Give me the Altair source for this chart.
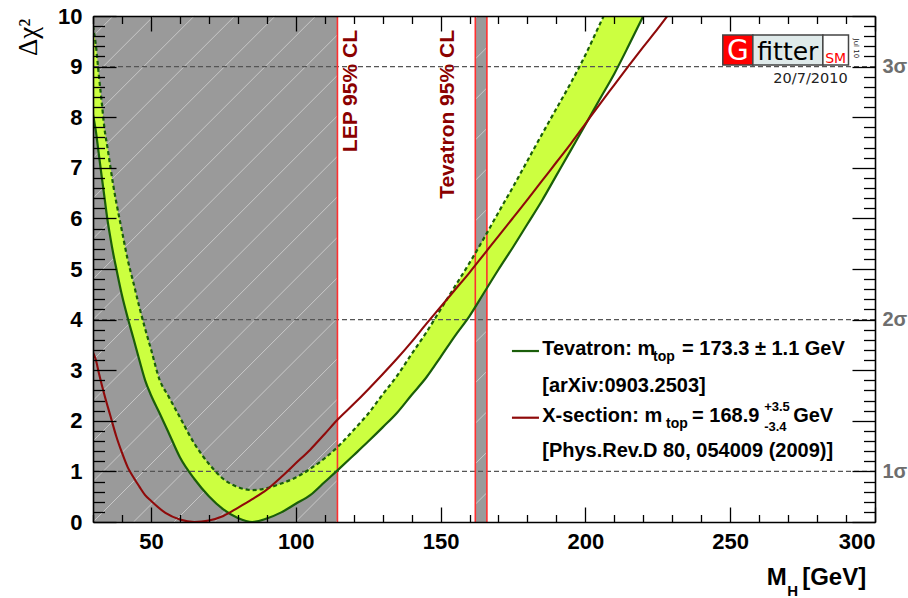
import altair as alt
import pandas as pd

# ---------------- values ----------------
mh = [30, 31, 32, 33, 34, 35, 36, 37, 38, 40, 42, 44, 46, 48, 50, 53, 56, 60,
      65, 70, 75, 80, 85, 90, 95, 100, 105, 110, 114.4, 120, 125, 130, 135, 140,
      145, 150, 155, 160, 165, 170, 175, 180, 185, 190, 195, 200, 205, 210, 215,
      220, 225]
tev_lower = [8.05, 7.72, 7.27, 6.83, 6.40, 5.97, 5.62, 5.30, 5.02, 4.48, 4.03, 3.62,
             3.20, 2.80, 2.51, 2.15, 1.78, 1.28, 0.85, 0.51, 0.25, 0.08, 0.00, 0.07,
             0.19, 0.36, 0.53, 0.79, 1.02, 1.32, 1.59, 1.87, 2.16, 2.51, 2.85, 3.26,
             3.68, 4.07, 4.53, 4.99, 5.43, 5.89, 6.35, 6.85, 7.35, 7.85, 8.36, 8.86,
             9.42, 10.0, 10.6]
tev_upper = [9.80, 9.42, 8.84, 8.30, 7.76, 7.40, 7.02, 6.65, 6.33, 5.75, 5.18, 4.72,
             4.25, 3.82, 3.42, 2.81, 2.49, 2.07, 1.55, 1.15, 0.85, 0.69, 0.63, 0.67,
             0.76, 0.88, 1.05, 1.26, 1.48, 1.82, 2.14, 2.52, 2.89, 3.32, 3.74, 4.20,
             4.66, 5.12, 5.61, 6.12, 6.62, 7.14, 7.66, 8.17, 8.68, 9.23, 9.84, 10.45,
             11.05, 11.65, 12.2]
xs_mh = [30, 31, 32, 34, 36, 38, 40, 42, 44, 46, 48, 50, 55, 60, 65, 70, 75, 80, 85,
         90, 95, 100, 105, 110, 114.4, 120, 125, 130, 135, 140, 145, 150, 155, 160,
         165, 170, 175, 180, 185, 190, 195, 200, 205, 210, 215, 220, 225, 230]
xs_chi2 = [3.35, 3.20, 2.95, 2.50, 2.10, 1.70, 1.37, 1.08, 0.88, 0.70, 0.53, 0.42,
           0.18, 0.05, 0.00, 0.03, 0.12, 0.28, 0.45, 0.64, 0.89, 1.16, 1.43, 1.74,
           2.02, 2.33, 2.62, 2.92, 3.23, 3.56, 3.91, 4.25, 4.59, 4.93, 5.29, 5.65,
           6.01, 6.37, 6.74, 7.11, 7.48, 7.87, 8.26, 8.64, 9.02, 9.39, 9.75, 10.13]

excl_from = [30, 162]
excl_to = [114.4, 166]
cl_edges = [114.4, 162, 166]
sigma_chi2 = [1, 4, 9]
sigma_names = ["1σ", "2σ", "3σ"]
x_label_values = [50, 100, 150, 200, 250, 300]
y_label_values = [0, 1, 2, 3, 4, 5, 6, 7, 8, 9, 10]
y_tick_values = [round(0.2 * i, 1) for i in range(51)]
x_tick_values = list(range(30, 301, 10))

# annotation anchors (data coordinates)
legend_text = ["Tevatron: m", "top", "= 173.3 ± 1.1 GeV", "[arXiv:0903.2503]",
               "X-section: m", "top", "= 168.9", "+3.5", "-3.4", "GeV",
               "[Phys.Rev.D 80, 054009 (2009)]"]
legend_x = [185.10, 223.37, 233.39, 185.10, 185.10, 227.86, 236.84, 261.72, 261.72,
            271.74, 185.10]
legend_y = [3.300, 3.182, 3.300, 2.579, 1.986, 1.858, 1.986, 2.194, 1.798, 1.986, 1.294]
legend_size = [20, 14, 20, 20, 20, 14, 20, 13, 13, 20, 20]
sample_x0 = [174.65, 174.65]
sample_x1 = [183.98, 183.98]
sample_y = [3.379, 2.061]
sample_color = ["#1a5e0a", "#8f0a0a"]

title_text = ["M", "H", "[GeV]"]
title_x = [262.65, 269.67, 274.85]
title_y = [-1.245, -1.462, -1.245]
title_size = [24, 15, 24]

cl_text = ["LEP 95% CL", "Tevatron 95% CL"]
cl_text_x = [121.12, 154.64]
cl_text_y = [9.723, 9.723]

logo_x0 = [247.45, 257.82, 282.0]
logo_x1 = [257.82, 282.0, 290.85]
logo_fill = ["#ff0000", "#dfeaea", "#ffffff"]
logo_text = ["G", "fitter", "SM"]
logo_text_x = [252.63, 269.91, 286.43]
logo_text_y = [9.13, 9.13, 9.081]
logo_text_size = [28, 25, 14]
logo_text_color = ["#ffffff", "#000000", "#ff0000"]

# ---------------- chart ----------------
W, H = 782, 506
F = "Liberation Sans"
GREEN = "#1a5e0a"
RED = "#8f0a0a"
X = alt.Scale(domain=[30, 300], nice=False, zero=False)
Y = alt.Scale(domain=[0, 10], nice=False, zero=False)

band = pd.DataFrame({"mh": mh, "lo": tev_lower, "hi": tev_upper})
xs = pd.DataFrame({"mh": xs_mh, "chi2": xs_chi2})
excl = pd.DataFrame({"a": excl_from, "b": excl_to, "y0": [0] * len(excl_from),
                     "y1": [10] * len(excl_from)})

# hatch decoration (45 degree light lines inside excluded regions)
S = 0.0572   # slope in data units that gives 45 degrees on screen
STEP = 0.8
hatch = []
for a, b in zip(excl_from, excl_to):
    for k in range(int(-(S * (b - 30)) / STEP) - 2, int(10 / STEP) + 3):
        c = k * STEP
        m_lo = max(a, 30 + (0 - c) / S)
        m_hi = min(b, 30 + (10 - c) / S)
        if m_hi > m_lo:
            hatch.append({"x": m_lo, "x2": m_hi, "y": c + S * (m_lo - 30),
                          "y2": c + S * (m_hi - 30)})
hatch = pd.DataFrame(hatch)


def tick_axis(orient, offset, values, test, big, small):
    return alt.Axis(orient=orient, offset=offset, values=values, labels=False,
                    title=None, grid=False, domain=True, domainColor="black",
                    domainWidth=1.6, ticks=True, tickColor="black", tickWidth=1.3,
                    tickSize={"condition": {"test": test, "value": big}, "value": small},
                    zindex=3)


ax_y_labels = alt.Axis(orient="left", values=y_label_values, ticks=False, domain=False,
                       grid=False, labelFont=F, labelFontSize=22, labelFontWeight="bold",
                       labelColor="black", labelPadding=11, title=None, format="d")
ax_x_labels = alt.Axis(orient="bottom", values=x_label_values, ticks=False, domain=False,
                       grid=False, labelFont=F, labelFontSize=22, labelFontWeight="bold",
                       labelColor="black", labelPadding=9, title=None, format="d")
ax_y_left_ticks = tick_axis("right", -W, y_tick_values, "datum.value % 1 === 0", 23, 11.5)
ax_y_right_ticks = tick_axis("left", -W, y_tick_values, "datum.value % 1 === 0", 23, 11.5)
ax_x_bottom_ticks = tick_axis("top", -H, x_tick_values, "datum.value % 50 === 0", 15, 7.5)
ax_x_top_ticks = tick_axis("bottom", -H, x_tick_values, "datum.value % 50 === 0", 15, 7.5)
sig_expr = " : ".join(f"datum.value === {v} ? '{n}'" for v, n in zip(sigma_chi2, sigma_names)) + " : ''"
ax_sigma = alt.Axis(orient="right", values=sigma_chi2, ticks=False, domain=False, grid=False,
                    labelFont=F, labelFontSize=20, labelFontWeight="bold",
                    labelColor="#6e6e6e", labelPadding=7, title=None, labelExpr=sig_expr)

gray = alt.Chart(excl).mark_rect(color="#9a9a9a").encode(
    x=alt.X("a:Q", scale=X, axis=ax_x_labels), x2="b:Q",
    y=alt.Y("y0:Q", scale=Y, axis=ax_y_labels), y2="y1:Q")

hatch_l = alt.Chart(hatch).mark_rule(color="#c8c8c8", strokeWidth=1).encode(
    x=alt.X("x:Q", scale=X, axis=ax_x_bottom_ticks), x2="x2:Q",
    y=alt.Y("y:Q", scale=Y, axis=ax_y_left_ticks), y2="y2:Q")

area = alt.Chart(band).mark_area(color="#ccff40", clip=True, interpolate="monotone").encode(
    x=alt.X("mh:Q", scale=X, axis=ax_x_top_ticks),
    y=alt.Y("lo:Q", scale=Y, axis=ax_y_right_ticks), y2="hi:Q")

refl = alt.Chart(pd.DataFrame({"v": sigma_chi2})).mark_rule(
    color="#555555", strokeDash=[5, 3], strokeWidth=1.3).encode(
    y=alt.Y("v:Q", scale=Y, axis=None))

cl = alt.Chart(pd.DataFrame({"m": cl_edges})).mark_rule(
    color="#ff3030", strokeWidth=1.6).encode(x=alt.X("m:Q", scale=X, axis=None))

lower = alt.Chart(band).mark_line(color=GREEN, strokeWidth=2.2, clip=True,
                                  interpolate="monotone").encode(
    x=alt.X("mh:Q", scale=X, axis=None), y=alt.Y("lo:Q", scale=Y, axis=None))
upper = alt.Chart(band).mark_line(color=GREEN, strokeWidth=2.2, strokeDash=[4, 3],
                                  clip=True, interpolate="monotone").encode(
    x=alt.X("mh:Q", scale=X, axis=None), y=alt.Y("hi:Q", scale=Y, axis=None))
xsec = alt.Chart(xs).mark_line(color=RED, strokeWidth=2.1, clip=True,
                               interpolate="monotone").encode(
    x=alt.X("mh:Q", scale=X, axis=None), y=alt.Y("chi2:Q", scale=Y, axis=ax_sigma))


def text_layer(df, **kw):
    enc = dict(x=alt.X("x:Q", scale=X, axis=None), y=alt.Y("y:Q", scale=Y, axis=None),
               text="t:N")
    if "size" in df.columns:
        enc["size"] = alt.Size("size:Q", scale=None, legend=None)
    if "color" in df.columns:
        enc["color"] = alt.Color("color:N", scale=None, legend=None)
    return alt.Chart(df).mark_text(**kw).encode(**enc)


legend_df = pd.DataFrame({"x": legend_x, "y": legend_y, "t": legend_text, "size": legend_size})
leg_txt = text_layer(legend_df, font=F, fontWeight="bold", align="left",
                     baseline="alphabetic", color="black")
samples = alt.Chart(pd.DataFrame({"x": sample_x0, "x2": sample_x1, "y": sample_y,
                                  "color": sample_color})).mark_rule(strokeWidth=2.2).encode(
    x=alt.X("x:Q", scale=X, axis=None), x2="x2:Q", y=alt.Y("y:Q", scale=Y, axis=None),
    color=alt.Color("color:N", scale=None, legend=None))

title_df = pd.DataFrame({"x": title_x, "y": title_y, "t": title_text, "size": title_size})
xtitle = text_layer(title_df, font=F, fontWeight="bold", align="left",
                    baseline="alphabetic", color="black")
ytitle = text_layer(pd.DataFrame({"x": [10.51], "y": [9.209], "t": ["Δχ²"]}),
                    font="Liberation Serif", fontSize=27, angle=270, align="left",
                    baseline="alphabetic", color="black")

cl_df = pd.DataFrame({"x": cl_text_x, "y": cl_text_y, "t": cl_text})
cl_txt = text_layer(cl_df, font=F, fontWeight="bold", fontSize=21, angle=270,
                    align="right", baseline="alphabetic", color="#8b0000")

logo_box = alt.Chart(pd.DataFrame({"a": logo_x0, "b": logo_x1, "fill": logo_fill,
                                   "y0": [9.032] * 3, "y1": [9.625] * 3})).mark_rect(
    stroke="#444444", strokeWidth=1.5).encode(
    x=alt.X("a:Q", scale=X, axis=None), x2="b:Q",
    y=alt.Y("y0:Q", scale=Y, axis=None), y2="y1:Q",
    fill=alt.Fill("fill:N", scale=None, legend=None))
logo_df = pd.DataFrame({"x": logo_text_x, "y": logo_text_y, "t": logo_text,
                        "size": logo_text_size, "color": logo_text_color})
logo_txt = text_layer(logo_df, font="DejaVu Sans", align="center", baseline="alphabetic")
jul = text_layer(pd.DataFrame({"x": [293.5], "y": [9.36], "t": ["Jul 10"]}),
                 font="DejaVu Sans", fontSize=7, angle=90, align="center",
                 baseline="middle", color="#222222")
date = text_layer(pd.DataFrame({"x": [290.58], "y": [8.67], "t": ["20/7/2010"]}),
                  font="DejaVu Sans", fontSize=14.5, align="right",
                  baseline="alphabetic", color="#222222")

chart = alt.layer(
    gray, hatch_l, area, refl, cl, lower, upper, xsec,
    samples, leg_txt, xtitle, ytitle, cl_txt, logo_box, logo_txt, jul, date
).resolve_axis(x="independent", y="independent").properties(
    width=W, height=H,
    autosize=alt.AutoSizeParams(type="none"),
    padding={"left": 93, "top": 16, "right": 33, "bottom": 76},
    background="white",
).configure_view(stroke=None)

chart.save("out.html", embed_options={"renderer": "svg", "actions": False})
